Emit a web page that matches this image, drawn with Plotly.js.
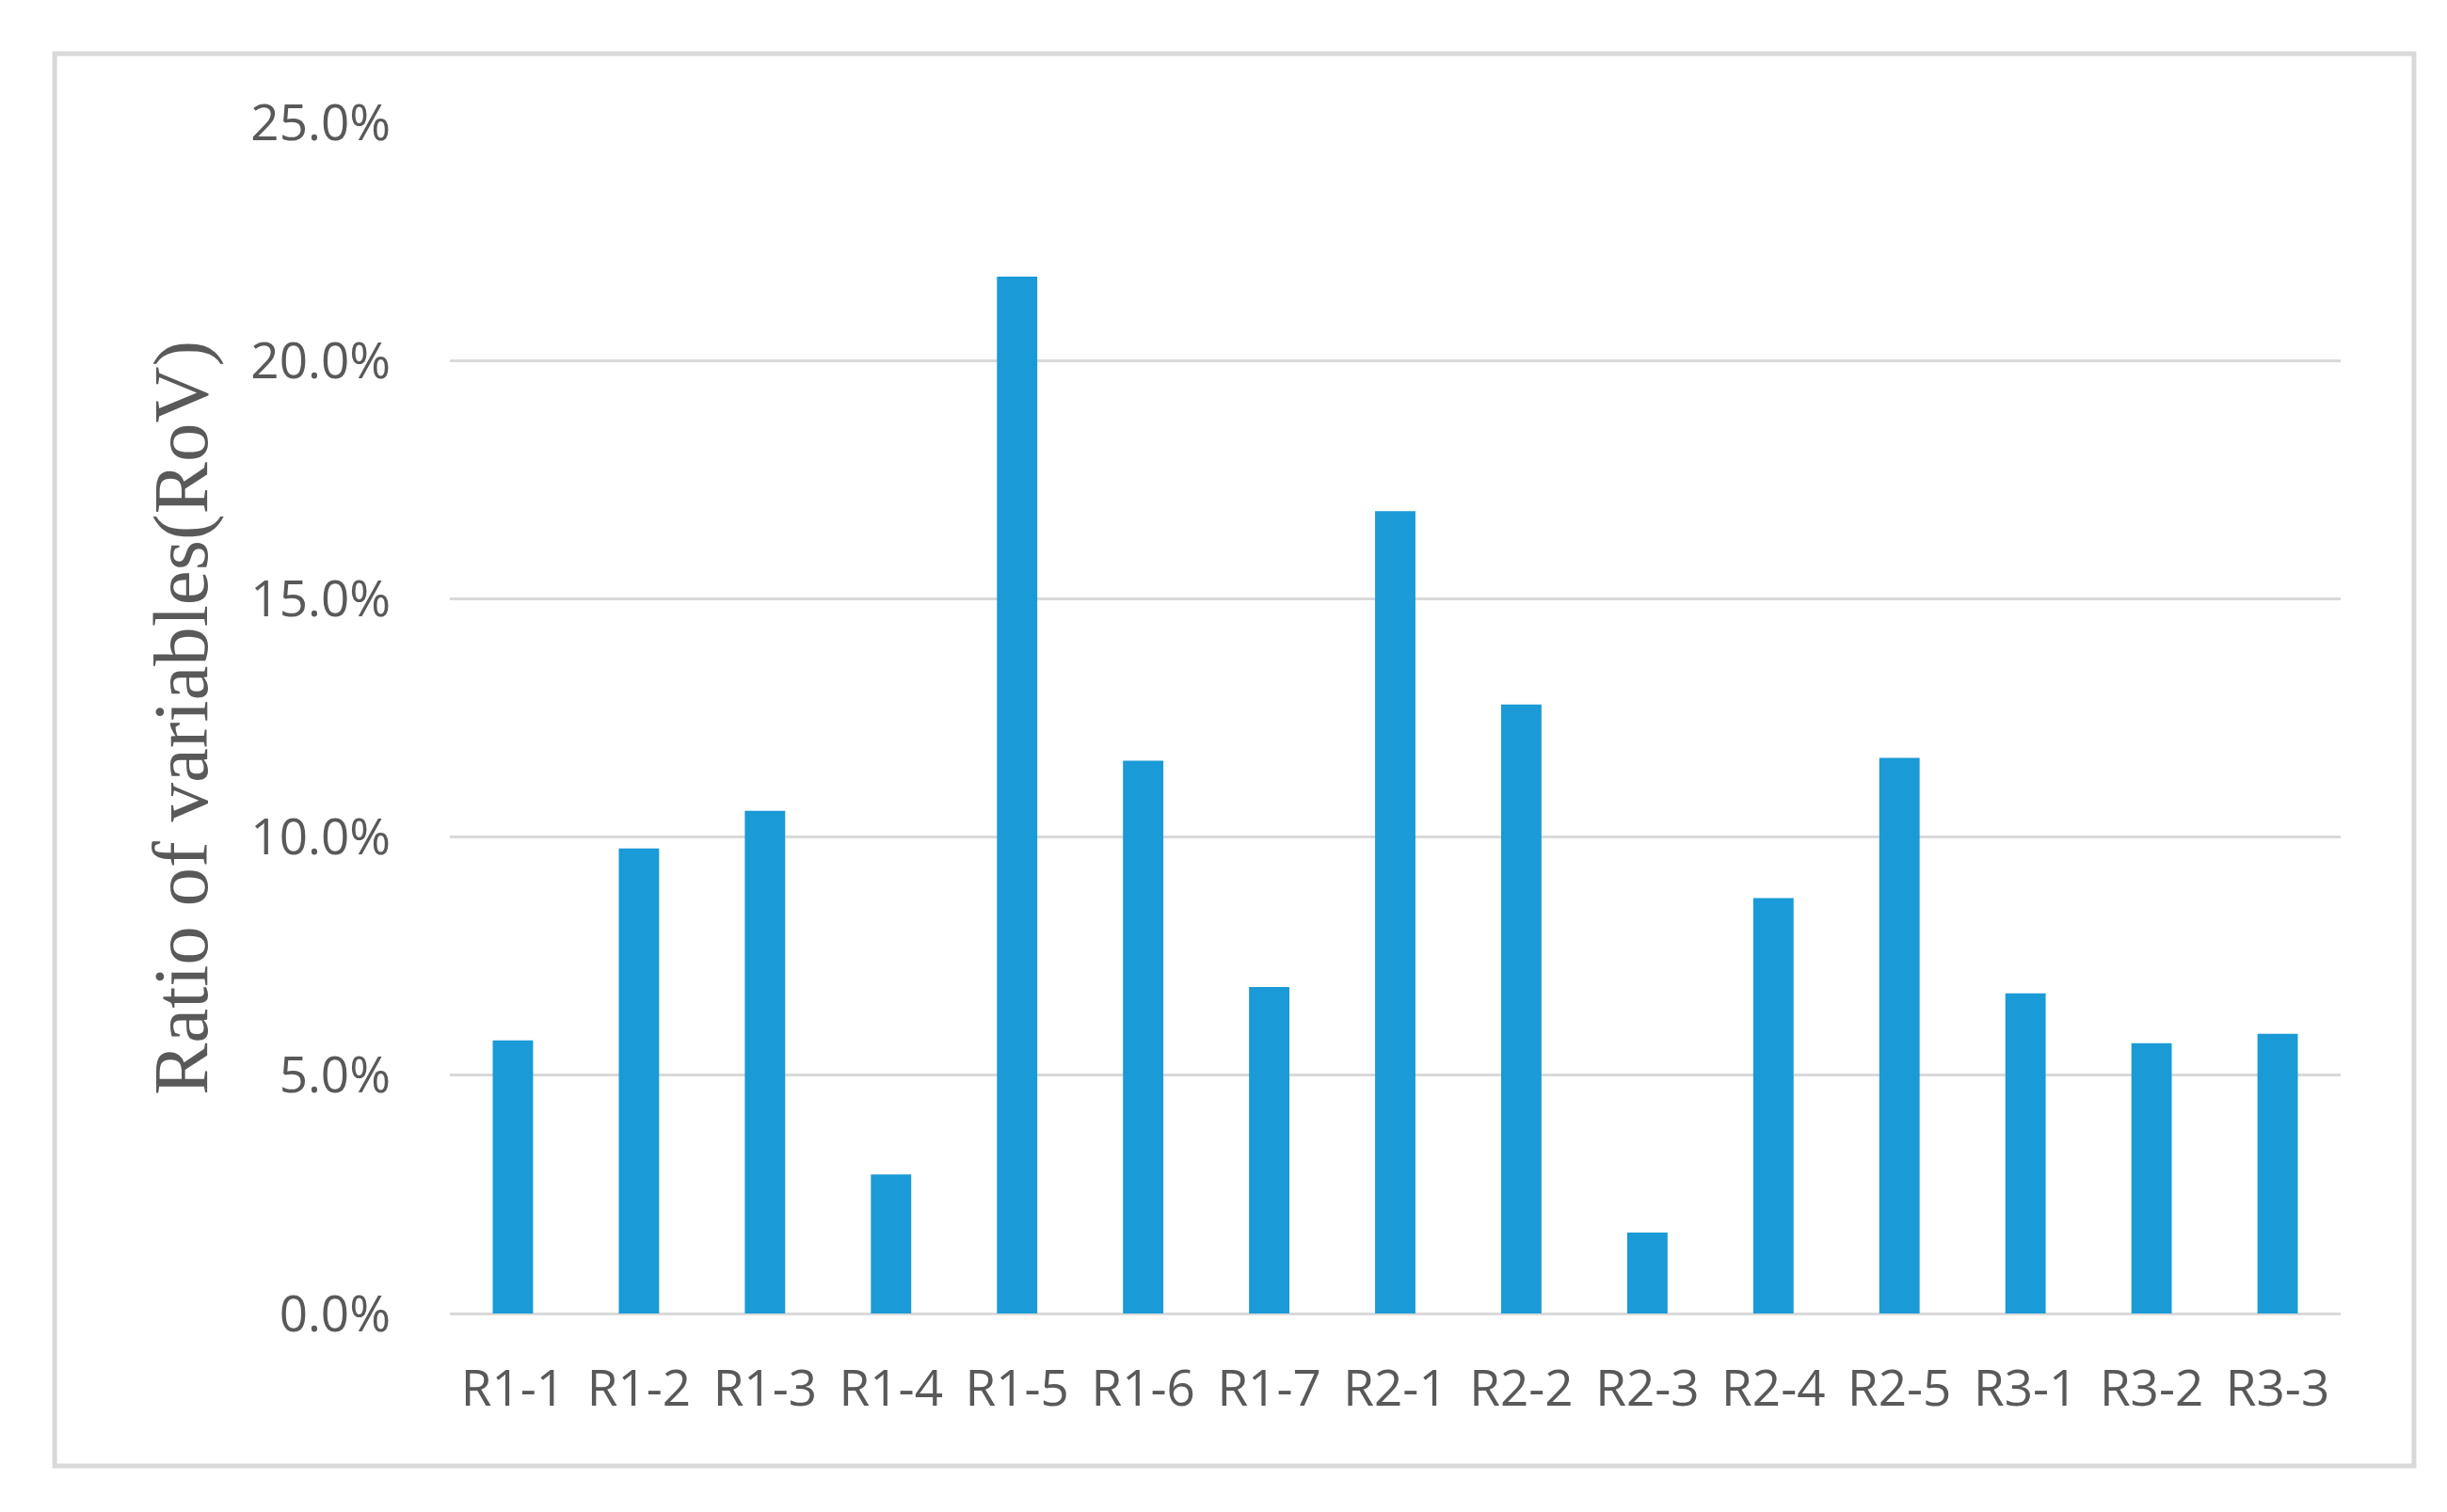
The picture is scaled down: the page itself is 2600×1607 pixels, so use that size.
<!DOCTYPE html>
<html>
<head>
<meta charset="utf-8">
<script src="https://cdn.plot.ly/plotly-3.0.1.min.js"></script>
<style>html,body{margin:0;padding:0;background:#fff;}#chart{width:2600px;height:1607px;}</style>
</head>
<body>
<div id="chart"></div>
<script>
const categories = ["R1-1","R1-2","R1-3","R1-4","R1-5","R1-6","R1-7","R2-1","R2-2","R2-3","R2-4","R2-5","R3-1","R3-2","R3-3"];
const rovPercent = [5.73, 9.76, 10.55, 2.92, 21.76, 11.6, 6.85, 16.84, 12.78, 1.70, 8.72, 11.66, 6.72, 5.67, 5.87];
const yTickValues = [0, 5, 10, 15, 20, 25];
const yTickLabels = ["0.0%", "5.0%", "10.0%", "15.0%", "20.0%", "25.0%"];
const yTitle = "Ratio of variables(RoV)";

const trace = {
  type: 'bar',
  x: categories,
  y: rovPercent,
  marker: {color: '#1a9ad7'},
  hoverinfo: 'x+y'
};

const tickFont = {family: 'Open Sans, sans-serif', size: 53, color: '#595959'};

const layout = {
  width: 2600,
  height: 1607,
  margin: {l: 478, r: 113, t: 130, b: 211, pad: 0},
  paper_bgcolor: '#ffffff',
  plot_bgcolor: '#ffffff',
  bargap: 0.68,
  showlegend: false,
  xaxis: {
    type: 'category',
    showgrid: false,
    zeroline: false,
    showline: false,
    ticks: '',
    tickfont: tickFont,
    ticklabelstandoff: 44
  },
  yaxis: {
    range: [0, 25],
    tickmode: 'array',
    tickvals: yTickValues,
    ticktext: yTickLabels,
    showgrid: true,
    gridcolor: '#d9d9d9',
    gridwidth: 3,
    zeroline: true,
    zerolinecolor: '#d9d9d9',
    zerolinewidth: 3,
    showline: false,
    ticks: '',
    tickfont: tickFont,
    ticklabelstandoff: 62,
    title: {
      text: yTitle,
      font: {family: 'Liberation Serif, Times New Roman, serif', size: 83, color: '#595959'},
      standoff: 18
    },
    automargin: false
  },
  shapes: [{
    type: 'rect',
    xref: 'paper', yref: 'paper',
    x0: -0.2090, x1: 1.0388,
    y0: -0.128, y1: 1.0577,
    line: {color: '#d9d9d9', width: 5},
    fillcolor: 'rgba(0,0,0,0)',
    layer: 'below'
  }]
};

Plotly.newPlot('chart', [trace], layout, {displayModeBar: false, staticPlot: true});
</script>
</body>
</html>
